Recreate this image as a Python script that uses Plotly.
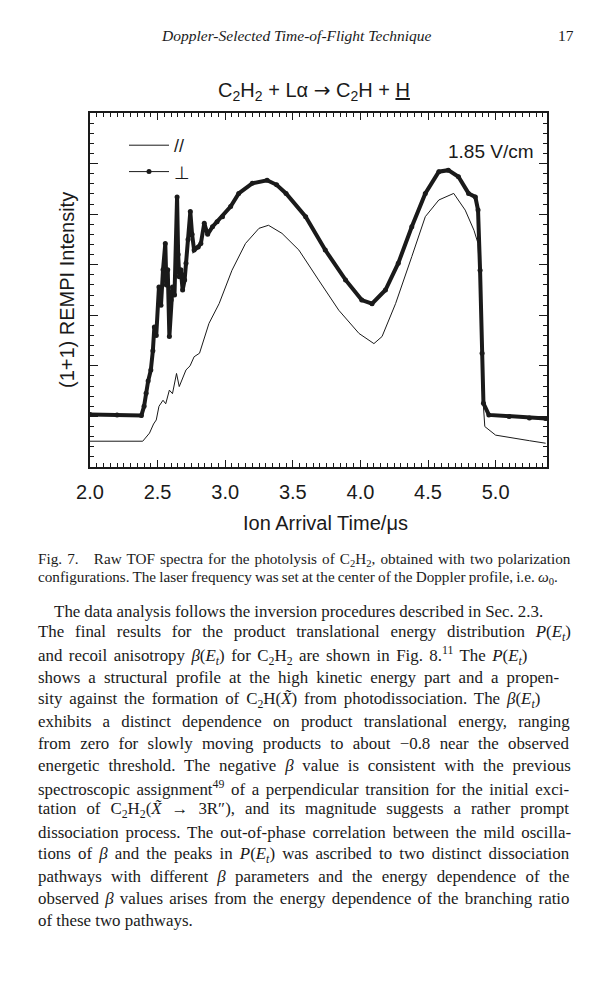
import plotly.graph_objects as go

# TOF traces (time in microseconds, intensity in arb. units)
t_perp = [2.00, 2.20, 2.38, 2.40, 2.415, 2.43, 2.45, 2.465, 2.476, 2.49,
          2.51, 2.525, 2.54, 2.557, 2.565, 2.575, 2.587, 2.60, 2.61, 2.625,
          2.644, 2.652, 2.66, 2.672, 2.685, 2.70, 2.71, 2.725, 2.742, 2.755,
          2.77, 2.80, 2.82, 2.845, 2.87, 2.906, 2.94, 2.98, 3.04, 3.10,
          3.20, 3.31, 3.38, 3.45, 3.595, 3.74, 3.89, 4.01, 4.086, 4.185,
          4.28, 4.38, 4.48, 4.58, 4.65, 4.725, 4.80, 4.85, 4.87, 4.885,
          4.90, 4.91, 4.95, 5.10, 5.25, 5.37]
i_perp = [1.04, 1.03, 1.02, 1.20, 1.46, 1.70, 1.92, 2.30, 2.77, 2.60,
          3.56, 3.20, 3.90, 4.42, 3.60, 3.90, 2.58, 3.30, 3.56, 3.40,
          5.34, 4.20, 3.76, 3.90, 3.50, 3.70, 4.03, 4.50, 5.05, 4.60,
          4.29, 4.35, 4.42, 4.82, 4.60, 4.75, 4.85, 4.95, 5.15, 5.41,
          5.61, 5.67, 5.58, 5.41, 4.95, 4.29, 3.70, 3.30, 3.23, 3.50,
          4.03, 4.75, 5.41, 5.84, 5.87, 5.74, 5.41, 5.34, 5.08, 3.89,
          2.25, 1.26, 1.03, 1.00, 0.97, 0.96]

t_par = [2.00, 2.20, 2.39, 2.44, 2.47, 2.49, 2.51, 2.54, 2.56, 2.587,
         2.61, 2.64, 2.66, 2.71, 2.74, 2.77, 2.81, 2.88, 2.955, 3.05,
         3.15, 3.25, 3.32, 3.42, 3.545, 3.69, 3.84, 3.99, 4.10, 4.16,
         4.26, 4.38, 4.48, 4.58, 4.69, 4.775, 4.84, 4.87, 4.89, 4.90,
         4.92, 5.00, 5.12, 5.25, 5.37]
i_par = [0.51, 0.51, 0.51, 0.67, 0.85, 0.93, 1.20, 1.32, 1.25, 1.52,
         1.45, 1.85, 1.59, 1.92, 2.00, 2.18, 2.25, 2.84, 3.23, 3.89,
         4.42, 4.72, 4.78, 4.62, 4.29, 3.70, 3.10, 2.64, 2.44, 2.58,
         3.23, 4.16, 4.95, 5.28, 5.41, 5.08, 4.68, 4.42, 3.24, 1.59,
         0.80, 0.63, 0.57, 0.52, 0.47]

x_ticks = [2.0, 2.5, 3.0, 3.5, 4.0, 4.5, 5.0]
x_labels = ["2.0", "2.5", "3.0", "3.5", "4.0", "4.5", "5.0"]

header = "<i>Doppler-Selected Time-of-Flight Technique</i>"
page_no = "17"

caption_lines = [
    "Fig. 7.\u00a0\u00a0\u00a0Raw TOF spectra for the photolysis of C<sub>2</sub>H<sub>2</sub>, "
    "obtained with two polarization",
    "configurations. The laser frequency was set at the center of the Doppler profile, "
    "i.e. <i>\u03c9</i><sub>0</sub>.",
]
caption_spacing = [1.3, -0.6]

PE = "<i>P</i>(<i>E<sub>t</sub></i>)"
BE = "<i>\u03b2</i>(<i>E<sub>t</sub></i>)"
B = "<i>\u03b2</i>"
XT = "<i>X\u0303</i>"
body_lines = [
    "\u00a0\u00a0\u00a0\u00a0The data analysis follows the inversion procedures described in Sec. 2.3.",
    "The final results for the product translational energy distribution " + PE,
    "and recoil anisotropy " + BE + " for C<sub>2</sub>H<sub>2</sub> are shown in Fig. 8.<sup>11</sup> The " + PE,
    "shows a structural profile at the high kinetic energy part and a propen-",
    "sity against the formation of C<sub>2</sub>H(" + XT + ") from photodissociation. The " + BE,
    "exhibits a distinct dependence on product translational energy, ranging",
    "from zero for slowly moving products to about \u22120.8 near the observed",
    "energetic threshold. The negative " + B + " value is consistent with the previous",
    "spectroscopic assignment<sup>49</sup> of a perpendicular transition for the initial exci-",
    "tation of C<sub>2</sub>H<sub>2</sub>(" + XT + " \u2192 3R\u2033), and its magnitude suggests a rather prompt",
    "dissociation process. The out-of-phase correlation between the mild oscilla-",
    "tions of " + B + " and the peaks in " + PE + " was ascribed to two distinct dissociation",
    "pathways with different " + B + " parameters and the energy dependence of the",
    "observed " + B + " values arises from the energy dependence of the branching ratio",
    "of these two pathways.",
]
# extra space between words (px) so the lines come out justified
body_spacing = [-0.2, 6.6, 2.2, 3.9, 2.7, 6.9, 5.1, 4.6, 2.4, 5.7, 2.7, 2.9, 5.0, 2.0, 0]

W, H = 605, 1000
OFF = 8  # page body margin of the html file
ink = "#1a1a1a"
sans = "Liberation Sans, Arial, DejaVu Sans"
serif = "Liberation Serif, Times New Roman, serif"


def px(x):
    return (x - OFF) / W


def py(y):
    return 1 - (y - OFF) / H


def spaced(text, ws):
    if not ws:
        return text
    return '<span style="word-spacing:%.1fpx">%s</span>' % (ws, text)


fig = go.Figure()

fig.add_trace(go.Scatter(
    x=t_par, y=i_par, mode="lines", name="//",
    line=dict(color=ink, width=1),
))
# thick band of the perpendicular trace, then the beaded line on top
fig.add_trace(go.Scatter(
    x=t_perp, y=i_perp, mode="lines", showlegend=False,
    line=dict(color=ink, width=4),
))
fig.add_trace(go.Scatter(
    x=t_perp, y=i_perp, mode="lines+markers", name="\u22a5",
    line=dict(color=ink, width=1),
    marker=dict(color=ink, size=5),
))

axis_common = dict(
    showline=True, linecolor=ink, linewidth=1.6, mirror="allticks",
    ticks="inside", tickcolor=ink, showgrid=False, zeroline=False,
    automargin=False,
)

fig.update_xaxes(
    range=[2.0, 5.38], tickvals=x_ticks, ticktext=x_labels,
    ticklen=7, tickwidth=1.2, ticklabelstandoff=6,
    minor=dict(dtick=0.05, ticks="inside", ticklen=4, tickcolor=ink, tickwidth=1),
    tickfont=dict(family=sans, size=20, color=ink),
    domain=[px(90), px(547)],
    **axis_common,
)
fig.update_yaxes(
    range=[0, 7], dtick=1, showticklabels=False,
    ticklen=8, tickwidth=1.2,
    minor=dict(dtick=0.2, ticks="inside", ticklen=4, tickcolor=ink, tickwidth=1),
    domain=[py(467), py(113)],
    **axis_common,
)

annotations = [
    dict(text="Ion Arrival Time/\u03bcs", x=px(325), y=py(523), xref="paper", yref="paper",
         xanchor="center", yanchor="middle", showarrow=False,
         font=dict(family=sans, size=20, color=ink)),
    dict(text="(1+1) REMPI Intensity", x=px(67), y=py(290), xref="paper", yref="paper",
         xanchor="center", yanchor="middle", showarrow=False, textangle=-90,
         font=dict(family=sans, size=20, color=ink)),
    dict(text="1.85 V/cm", x=0.976, y=0.891, xref="x domain", yref="y domain",
         xanchor="right", yanchor="middle", showarrow=False,
         font=dict(family=sans, size=19, color=ink)),
    dict(text=header, x=px(296), y=py(35), xref="paper", yref="paper",
         xanchor="center", yanchor="middle", showarrow=False,
         font=dict(family=serif, size=15.5, color=ink)),
    dict(text=page_no, x=px(576), y=py(35), xref="paper", yref="paper",
         xanchor="right", yanchor="middle", showarrow=False,
         font=dict(family=serif, size=15.5, color=ink)),
]
for k, line in enumerate(caption_lines):
    annotations.append(dict(
        text=spaced(line, caption_spacing[k]), x=px(36), y=py(559 + 18 * k),
        xref="paper", yref="paper", xanchor="left", yanchor="middle", showarrow=False,
        font=dict(family=serif, size=15.2, color=ink)))
for k, line in enumerate(body_lines):
    annotations.append(dict(
        text=spaced(line, body_spacing[k]), x=px(36), y=py(611 + 22.14 * k),
        xref="paper", yref="paper", xanchor="left", yanchor="middle", showarrow=False,
        font=dict(family=serif, size=16.9, color=ink)))

fig.update_layout(
    width=W, height=H, autosize=False,
    margin=dict(l=0, r=0, t=0, b=0),
    paper_bgcolor="white", plot_bgcolor="white",
    title=dict(text="C<sub>2</sub>H<sub>2</sub> + L\u03b1 "
                    "<span style=\"font-family:DejaVu Sans\">\u2192</span> C<sub>2</sub>H + <u>H</u>",
               x=px(314), y=py(90), xanchor="center", yanchor="middle",
               font=dict(family=sans, size=20, color=ink)),
    legend=dict(x=px(124), y=py(127), xanchor="left", yanchor="top",
                bgcolor="rgba(0,0,0,0)", font=dict(family=sans, size=18, color=ink),
                itemwidth=40),
    annotations=annotations,
)

fig.write_html("out.html")
